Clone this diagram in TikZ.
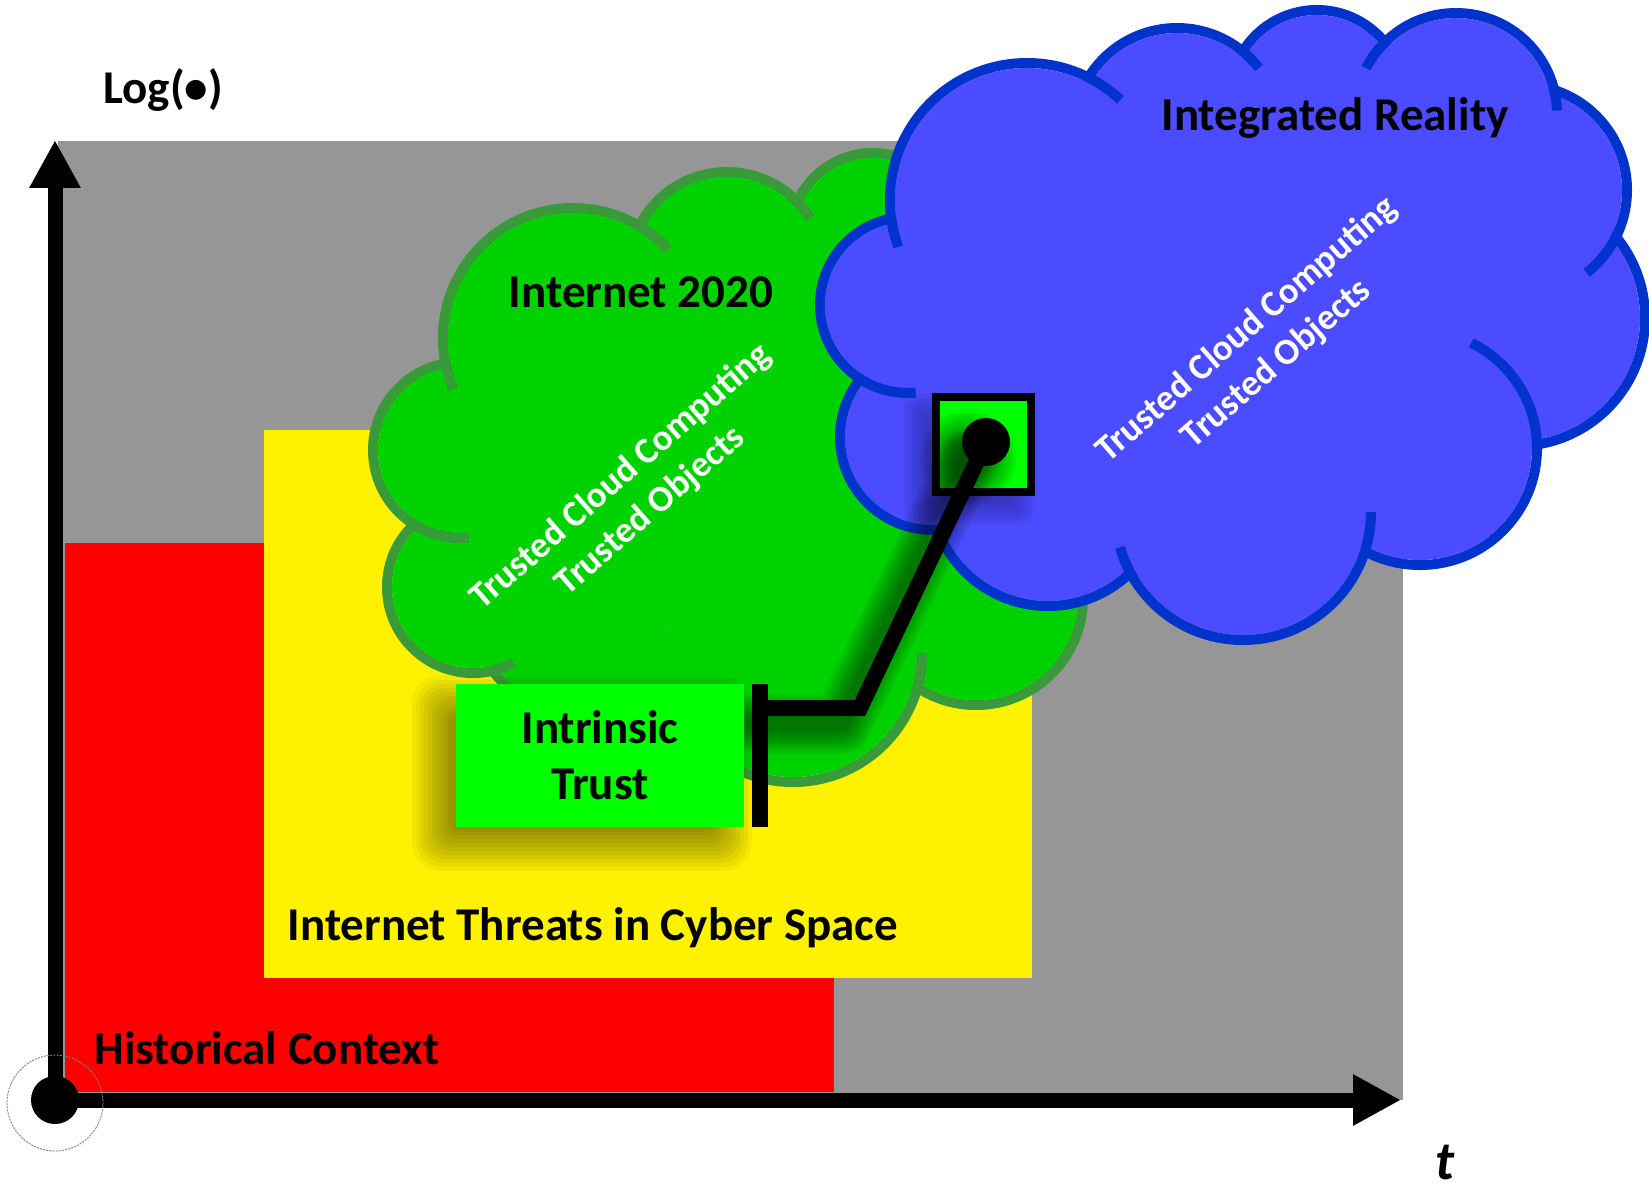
\documentclass[tikz,border=0pt]{standalone}
\usepackage{fontspec}
\setmainfont{Carlito}
\usetikzlibrary{arrows.meta}
\newdimen\pxl
\pxl=0.02cm
\definecolor{bggray}{HTML}{969696}
\definecolor{cgreen}{HTML}{00D200}
\definecolor{cgreenline}{HTML}{389A38}
\definecolor{cblue}{HTML}{4B4BFF}
\definecolor{cblueline}{HTML}{0033CC}
\definecolor{boxgreen}{HTML}{00FF00}
\begin{document}
\begin{tikzpicture}[x=0.02cm,y=-0.02cm,
  lbl/.style={inner sep=0, anchor=base, font=\fontsize{26.75}{32}\selectfont\bfseries},
  rot/.style={inner sep=0, text=white, align=center, rotate=41, font=\fontsize{20.9}{25.8}\selectfont\bfseries},
  axis/.style={line width=15*\pxl, -{Triangle[length=27.3pt,width=27.3pt]}},
  conn/.style={line width=16*\pxl, line join=miter},
  cloudline/.style={line width=10*\pxl},
  shadowlayer/.style={black, opacity=0.045},
  sqshadow/.style={black, opacity=0.03},
  lineshadow/.style={black, opacity=0.05}]
\useasboundingbox (0,0) rectangle (1649,1188);
\fill[white] (0,0) rectangle (1649,1188);
% panels
\fill[bggray] (58,141) rectangle (1403,1100);
\fill[red] (65,543) rectangle (834,1092);
\fill[yellow] (264,430) rectangle (1032,978);
% ---------------- green cloud
\def\greencircles{573/338/130,727/270/98,873/236/83,990/440/100,976/598/107,793/653/129,573/611/100,473/587/86,461/450/88}
\foreach \cx/\cy/\rr in \greencircles {\draw[cgreenline, cloudline] (\cx,\cy) circle[radius=\rr];}
\fill[cgreen] (573,338) -- (727,270) -- (873,236) -- (990,440) -- (976,598) -- (793,653) -- (573,611) -- (473,587) -- (461,450) -- cycle;
\fill[cgreen] (520,630) rectangle (740,700);
\foreach \cx/\cy/\rr in \greencircles {\fill[cgreen] (\cx,\cy) circle[radius=\rr-5];}
\foreach \cx/\cy/\rr/\a/\b in {573/338/130/157/169, 573/338/130/300/317, 727/270/98/315/328, 461/450/88/85/122, 473/587/86/62/79, 793/653/129/0/15}
  {\draw[cgreenline, cloudline] (\cx,\cy) ++(\a:\rr) arc[start angle=\a, end angle=\b, radius=\rr];}
% ---------------- blue cloud
\def\bluecircles{1027/200/137,1177/132/104,1317/97/87,1456/114/101,1522/190/105,1517/318/128,1420/448/117,1243/512/128,1048/488/118,933/437/93,908/305/88}
\foreach \cx/\cy/\rr in \bluecircles {\draw[cblueline, cloudline] (\cx,\cy) circle[radius=\rr];}
\fill[cblue] (1027,200) -- (1177,132) -- (1317,97) -- (1456,114) -- (1522,190) -- (1517,318) -- (1420,448) -- (1243,512) -- (1048,488) -- (933,437) -- (908,305) -- cycle;
\foreach \cx/\cy/\rr in \bluecircles {\fill[cblue] (\cx,\cy) circle[radius=\rr-5];}
\foreach \cx/\cy/\rr/\a/\b in {1027/200/137/160/172, 1027/200/137/297/313, 1177/132/104/311/322, 1456/114/101/207/227, 1456/114/101/346/358, 1522/190/105/24/52, 1420/448/117/296/361, 1243/512/128/0/17, 1243/512/128/149/164, 908/305/88/85/124}
  {\draw[cblueline, cloudline] (\cx,\cy) ++(\a:\rr) arc[start angle=\a, end angle=\b, radius=\rr];}
% ---------------- shadows
\foreach \k in {0,...,13}{\fill[shadowlayer, rounded corners={(28-2*\k)*\pxl}] ({438-26+4*\k},{702-26+4*\k}) rectangle ({726+26-4*\k},{845+26-4*\k});}
\foreach \k in {0,...,7}{\fill[sqshadow, rounded corners={(16-2*\k)*\pxl}] ({932-15-14+3*\k},{392+15-14+3*\k}) rectangle ({1035-15+14-3*\k},{496+15+14-3*\k});}
\foreach \k in {0,...,9}{
  \draw[lineshadow, line width={(60-5*\k)*\pxl}, line cap=round, line join=round, shift={(-18,16)}]
    (775,708) -- (860,708) -- (986,442);
  \fill[lineshadow, shift={(-18,16)}] (986,442) circle[radius={48-3*\k}];}
% ---------------- square and box
\node[draw=black, line width=8*\pxl, fill=boxgreen, minimum size=95*\pxl, inner sep=0] (sq) at (983.5,444) {};
\begin{scope}
  \clip (936,396) rectangle (1031,492);
  \foreach \k in {0,...,9}{
    \draw[lineshadow, line width={(60-5*\k)*\pxl}, line cap=round, line join=round, shift={(-18,16)}] (860,708) -- (986,442);
    \fill[lineshadow, shift={(-18,16)}] (986,442) circle[radius={48-3*\k}];}
\end{scope}
\node[fill=boxgreen, minimum width=288*\pxl, minimum height=143*\pxl, inner sep=0, align=center,
      font=\fontsize{26.75}{31.9}\selectfont\bfseries] (trust) at (600,755.5) {Intrinsic\\Trust};
% ---------------- connector
\coordinate (elbow) at (860,708);
\node[fill=black, minimum width=16*\pxl, minimum height=143*\pxl, inner sep=0] (bar) at (760,755.5) {};
\node[circle, fill=black, minimum size=48*\pxl, inner sep=0] (dot) at (986,442) {};
\draw[conn] (bar.center |- elbow) -- (elbow) -- (dot.center);
% ---------------- labels
\node[lbl] (logt) at (163,103) {Log(•)};
\node[lbl] (ir) at (1335,130) {Integrated Reality};
\node[lbl] (inet) at (641,307) {Internet 2020};
\node[lbl] (threats) at (593,940) {Internet Threats in Cyber Space};
\node[lbl] (hist) at (267,1064) {Historical Context};
\node[inner sep=0, anchor=base, font=\fontsize{31}{36}\selectfont\bfseries\itshape] (tlab) at (1445,1179) {t};
\node[rot] (gtext) at (636,494) {Trusted Cloud Computing\\Trusted Objects};
\node[rot] (btext) at (1262,347) {Trusted Cloud Computing\\Trusted Objects};
% ---------------- axes
\node[circle, fill=black, minimum size=48*\pxl, inner sep=0] (origin) at (55,1100) {};
\coordinate (ytip) at (55,140);
\coordinate (xtip) at (1401,1100);
\draw[axis] (origin.center) -- (ytip);
\draw[axis] (origin.center) -- (xtip);
\draw[gray, line width=0.5pt, dash pattern=on 1.2pt off 0.6pt] (55,1103) circle[radius=48];
\end{tikzpicture}
\end{document}
